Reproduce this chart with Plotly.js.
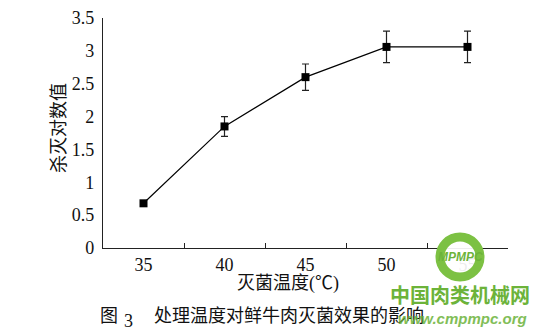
<!DOCTYPE html>
<html>
<head>
<meta charset="utf-8">
<script src="https://cdn.plot.ly/plotly-3.0.1.min.js"></script>
<style>html,body{margin:0;padding:0;background:#fff;}#chart{width:560px;height:334px;}</style>
</head>
<body>
<div id="chart"></div>
<script>
// Data
const temperatures = ["35", "40", "45", "50", "55"];
const logKill = [0.68, 1.85, 2.60, 3.06, 3.06];
const errors = [0, 0.15, 0.20, 0.24, 0.24];
const yTickValues = [0, 0.5, 1, 1.5, 2, 2.5, 3, 3.5];
const yTickLabels = ["0", "0.5", "1", "1.5", "2", "2.5", "3", "3.5"];
const yTitle = "杀灭对数值";
const xTitle = "灭菌温度(℃)";
const captionFig = "图";
const captionNum = "3";
const captionText = "处理温度对鲜牛肉灭菌效果的影响";
const watermark1 = "中国肉类机械网";
const watermark2 = "www.cmpmpc.org";
const logoText = "MPMPC";

const FONT = "Liberation Serif, Noto Sans CJK SC, serif";
const CJK = "Noto Sans CJK SC, sans-serif";

// plot area in pixels
const L = 103, R = 508, T = 18, B = 248;
const px = x => (x - L) / (R - L);
const py = y => (B - y) / (B - T);

const trace = {
  x: temperatures,
  y: logKill,
  type: 'scatter',
  mode: 'lines+markers',
  line: {color: '#000', width: 1.2},
  marker: {symbol: 'square', size: 8, color: '#000'},
  error_y: {type: 'data', array: errors, visible: true, color: '#222', thickness: 1.2, width: 3.5},
  showlegend: false,
  cliponaxis: false
};

const layout = {
  width: 560, height: 334,
  margin: {l: L, r: 560 - R, t: T, b: 334 - B},
  paper_bgcolor: '#fff', plot_bgcolor: '#fff',
  font: {family: FONT, color: '#111', size: 18},
  xaxis: {
    type: 'category',
    range: [-0.5, 4.5],
    tickson: 'boundaries',
    ticks: 'inside', ticklen: 5, tickwidth: 1, tickcolor: '#222',
    showline: true, linecolor: '#222', linewidth: 1.2,
    showgrid: false, zeroline: false,
    tickfont: {family: FONT, size: 18, color: '#111'},
    fixedrange: true
  },
  yaxis: {
    range: [0, 3.5],
    tickvals: yTickValues, ticktext: yTickLabels,
    ticks: '', showline: true, linecolor: '#222', linewidth: 1.2,
    showgrid: false, zeroline: false,
    ticklabelstandoff: 4,
    tickfont: {family: FONT, size: 18, color: '#111'},
    fixedrange: true
  },
  shapes: [
    {type: 'circle', xref: 'paper', yref: 'paper', layer: 'above',
     x0: px(440), x1: px(480), y0: py(277), y1: py(237),
     line: {color: '#7cc143', width: 9}, fillcolor: 'rgba(255,255,255,0.92)'}
  ],
  annotations: [
    {text: yTitle, xref: 'paper', yref: 'paper', x: px(57), y: py(128), textangle: -90,
     showarrow: false, xanchor: 'center', yanchor: 'middle', font: {family: CJK, size: 18, color: '#111'}},
    {text: xTitle, xref: 'paper', yref: 'paper', x: px(288), y: py(283),
     showarrow: false, xanchor: 'center', yanchor: 'middle', font: {family: FONT, size: 18, color: '#111'}},
    {text: captionFig, xref: 'paper', yref: 'paper', x: px(98), y: py(314),
     showarrow: false, xanchor: 'left', yanchor: 'middle', font: {family: CJK, size: 18, color: '#111'}},
    {text: captionNum, xref: 'paper', yref: 'paper', x: px(122), y: py(321),
     showarrow: false, xanchor: 'left', yanchor: 'middle', font: {family: FONT, size: 18, color: '#111'}},
    {text: captionText, xref: 'paper', yref: 'paper', x: px(152), y: py(314),
     showarrow: false, xanchor: 'left', yanchor: 'middle', font: {family: CJK, size: 18, color: '#111'}},
    {text: logoText, xref: 'paper', yref: 'paper', x: px(460), y: py(257),
     showarrow: false, xanchor: 'center', yanchor: 'middle',
     font: {family: "Liberation Sans, sans-serif", size: 12, color: '#6cb33a', style: 'italic', weight: 'bold'}},
    {text: watermark1, xref: 'paper', yref: 'paper', x: px(460), y: py(294),
     showarrow: false, xanchor: 'center', yanchor: 'middle',
     font: {family: CJK, size: 20, color: '#6cb33a', weight: 'bold'}},
    {text: watermark2, xref: 'paper', yref: 'paper', x: px(462), y: py(318),
     showarrow: false, xanchor: 'center', yanchor: 'middle', opacity: 0.85,
     font: {family: "Liberation Sans, sans-serif", size: 15, color: '#6cb33a', style: 'italic', weight: 'bold'}}
  ]
};

Plotly.newPlot('chart', [trace], layout, {staticPlot: true, displayModeBar: false});
</script>
</body>
</html>
